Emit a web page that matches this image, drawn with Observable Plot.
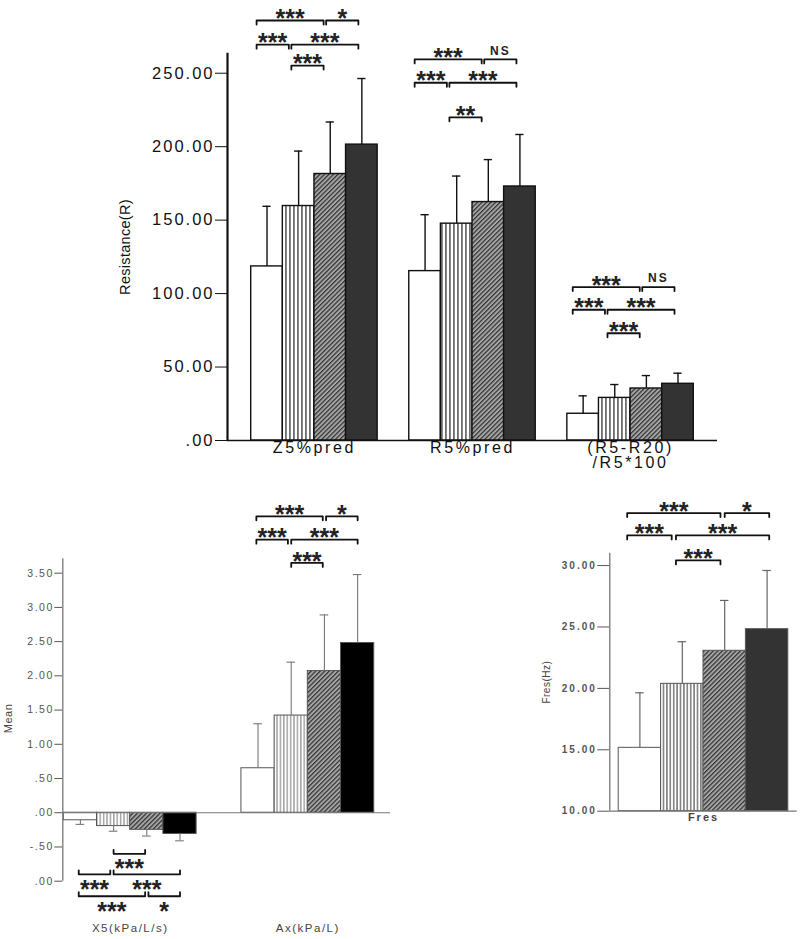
<!DOCTYPE html>
<html><head><meta charset="utf-8">
<script src="https://cdn.jsdelivr.net/npm/d3@7"></script>
<script src="https://cdn.jsdelivr.net/npm/@observablehq/plot@0.6"></script>
<style>
body{margin:0;background:#fff;}
#wrap{position:relative;width:800px;height:939px;overflow:hidden;background:#fff;}
</style></head><body>
<svg width="0" height="0" style="position:absolute">
<defs>
<pattern id="vsTop" patternUnits="userSpaceOnUse" width="4" height="4"><rect width="4" height="4" fill="#fff"/><rect x="1.4" width="1.1" height="4" fill="#111"/></pattern>
<pattern id="vsLow" patternUnits="userSpaceOnUse" width="3.4" height="4"><rect width="3.4" height="4" fill="#fff"/><rect x="1.2" width="0.9" height="4" fill="#666"/></pattern>
<pattern id="vsFres" patternUnits="userSpaceOnUse" width="3.4" height="4"><rect width="3.4" height="4" fill="#fff"/><rect x="1.2" width="1" height="4" fill="#333"/></pattern>
<pattern id="hatch" patternUnits="userSpaceOnUse" width="3.2" height="3.2" patternTransform="rotate(45)"><rect width="3.2" height="3.2" fill="#a6a6a6"/><rect width="1.25" height="3.2" fill="#333"/></pattern>
</defs></svg>
<div id="wrap"></div>
<script>
// ---------------- DATA ----------------
// top panel: Resistance(R)
const topGroups = ["Z5%pred", "R5%pred", "(R5-R20)\n/R5*100"];
const z5Mean = [118.5, 159.6, 181.4, 201.4];
const z5Upper = [159.4, 197.0, 216.8, 246.4];
const r5Mean = [115.3, 147.6, 162.3, 172.9];
const r5Upper = [153.7, 180.0, 191.2, 208.3];
const ratioMean = [18.2, 29.0, 35.4, 38.6];
const ratioUpper = [30.4, 38.1, 44.2, 45.8];
const topTicks = [0, 50, 100, 150, 200, 250];
const topTickLabels = [".00", "50.00", "100.00", "150.00", "200.00", "250.00"];
const topAxisTop = 263.6;

// bottom-left panel: Mean
const lowGroups = ["X5(kPa/L/s)", "Ax(kPa/L)"];
const x5Mean = [-0.11, -0.195, -0.25, -0.31];
const x5Lower = [-0.17, -0.27, -0.34, -0.41];
const axMean = [0.65, 1.42, 2.07, 2.48];
const axUpper = [1.30, 2.20, 2.89, 3.48];
const lowTicks = [-1, -0.5, 0, 0.5, 1, 1.5, 2, 2.5, 3, 3.5];
const lowTickLabels = [".00", "-.50", ".00", ".50", "1.00", "1.50", "2.00", "2.50", "3.00", "3.50"];
const lowAxisRange = [-1, 3.71];

// bottom-right panel: Fres(Hz)
const fresGroups = ["Fres"];
const fresMean = [15.16, 20.37, 23.06, 24.82];
const fresUpper = [19.64, 23.80, 27.16, 29.60];
const fresTicks = [10, 15, 20, 25, 30];
const fresTickLabels = ["10.00", "15.00", "20.00", "25.00", "30.00"];
const fresAxisRange = [10, 31.0];

// significance brackets: bars a..b, tier (0 = farthest from bars), label
const sigZ5 = [{a:0,b:2,tier:0,label:"***"},{a:2,b:3,tier:0,label:"*"},{a:0,b:1,tier:1,label:"***"},{a:1,b:3,tier:1,label:"***"},{a:1,b:2,tier:2,label:"***"}];
const sigR5 = [{a:0,b:2,tier:0,label:"***"},{a:2,b:3,tier:0,label:"NS"},{a:0,b:1,tier:1,label:"***"},{a:1,b:3,tier:1,label:"***"},{a:1,b:2,tier:2,label:"**"}];
const sigRatio = [{a:0,b:2,tier:0,label:"***"},{a:2,b:3,tier:0,label:"NS"},{a:0,b:1,tier:1,label:"***"},{a:1,b:3,tier:1,label:"***"},{a:1,b:2,tier:2,label:"***"}];
const sigAx = [{a:0,b:2,tier:0,label:"***"},{a:2,b:3,tier:0,label:"*"},{a:0,b:1,tier:1,label:"***"},{a:1,b:3,tier:1,label:"***"},{a:1,b:2,tier:2,label:"***"}];
const sigX5 = [{a:1,b:2,tier:0,label:"***"},{a:0,b:1,tier:1,label:"***"},{a:1,b:3,tier:1,label:"***"},{a:0,b:2,tier:2,label:"***"},{a:2,b:3,tier:2,label:"*"}];
const sigFres = [{a:0,b:2,tier:0,label:"***"},{a:2,b:3,tier:0,label:"*"},{a:0,b:1,tier:1,label:"***"},{a:1,b:3,tier:1,label:"***"},{a:1,b:2,tier:2,label:"***"}];
// bracket tier heights (data units)
const tiersZ5 = [285.9, 269.4, 255.2];
const tiersR5 = [259.4, 243.5, 220.0];
const tiersRatio = [104.4, 89.0, 73.0];
const tiersAx = [4.33, 3.99, 3.65];
const tiersX5 = [-0.60, -0.90, -1.22];
const tiersFres = [34.27, 32.45, 30.42];

// ---------------- HELPERS ----------------
function buildRows(groups, means, ends, groupStep) {
  const out = [];
  groups.forEach((name, g) => means[g].forEach((m, i) => {
    const x1 = g * groupStep + i;
    out.push({g, i, name, mean: m, end: ends[g][i], x1, x2: x1 + 1, xc: x1 + 0.5});
  }));
  return out;
}
function buildBrackets(sig, start, tiers, geom, tickLen, dir) {
  const lines = [], labels = [];
  sig.forEach((s, k) => {
    const x1 = start + geom.base + geom.step * s.a;
    const x2 = start + geom.base + geom.step * s.b - geom.gap;
    const y = tiers[s.tier];
    const ye = y - dir * tickLen;
    const id = start + "-" + k;
    lines.push({id, x: x1, y: ye}, {id, x: x1, y}, {id, x: x2, y}, {id, x: x2, y: ye});
    labels.push({x: (x1 + x2) / 2, y, label: s.label});
  });
  return {lines, labels};
}
function bracketMarks(br, starDy, nsDy) {
  return [
    Plot.line(br.lines, {x: "x", y: "y", z: "id", stroke: "#111", strokeWidth: 1.8, curve: "linear"}),
    Plot.text(br.labels.filter(d => d.label !== "NS"), {x: "x", y: "y", text: "label", dy: starDy, fontSize: 25, fontWeight: "bold", fill: "#222"}),
    Plot.text(br.labels.filter(d => d.label === "NS"), {x: "x", y: "y", text: "label", dy: nsDy, fontSize: 12, fontWeight: "bold", fill: "#222"})
  ];
}
function styleText(svg, test, styles) {
  const sel = d3.select(svg).selectAll("text").filter(function() { return test(this.textContent); });
  for (const k in styles) sel.style(k, styles[k]);
}
function place(svg, left, top) {
  svg.style.position = "absolute";
  svg.style.left = left + "px";
  svg.style.top = top + "px";
  svg.style.background = "transparent";
  svg.style.maxWidth = "none";
  document.getElementById("wrap").appendChild(svg);
  styleText(svg, t => /^\*+$/.test(t), {"letter-spacing": "0px"});
}
const FONT = "'Liberation Sans', Arial, sans-serif";

// ---------------- TOP PANEL ----------------
{
  const H = 470, MB = 30, yDom = [0, 299.5];
  const pxPerUnit = (H - MB) / (yDom[1] - yDom[0]);
  const rows = buildRows(topGroups, [z5Mean, r5Mean, ratioMean], [z5Upper, r5Upper, ratioUpper], 5);
  const fills = ["#fff", "url(#vsTop)", "url(#hatch)", "#333"];
  const geom = {base: 0.17, step: 1.1, gap: 0.08};
  const tl = 4 / pxPerUnit;
  const brs = [
    buildBrackets(sigZ5, 0, tiersZ5, geom, tl, 1),
    buildBrackets(sigR5, 5, tiersR5, geom, tl, 1),
    buildBrackets(sigRatio, 10, tiersRatio, geom, tl, 1)
  ];
  const tickMap = new Map(topTicks.map((t, i) => [t, topTickLabels[i]]));
  const xDom = [-0.75, 14.75];
  const svg = Plot.plot({
    width: 800, height: H, marginTop: 0, marginBottom: MB, marginLeft: 227, marginRight: 83,
    style: {fontFamily: FONT, fontSize: "16.5px", letterSpacing: "2px", color: "#111", background: "transparent"},
    x: {domain: xDom, axis: null},
    y: {domain: yDom, ticks: topTicks, tickFormat: d => tickMap.get(d), tickSize: 12, tickPadding: 1, label: null},
    marks: [
      ...fills.map((f, i) => Plot.rect(rows.filter(d => d.i === i), {x1: "x1", x2: "x2", y1: 0, y2: "mean", fill: f, stroke: "#111", strokeWidth: 1.4})),
      Plot.ruleX(rows, {x: "xc", y1: "mean", y2: "end", stroke: "#111", strokeWidth: 1.4}),
      Plot.ruleY(rows, {y: "end", x1: d => d.xc - 0.13, x2: d => d.xc + 0.13, stroke: "#111", strokeWidth: 1.4}),
      Plot.ruleY([0], {stroke: "#111", strokeWidth: 1.6}),
      Plot.ruleX([xDom[0]], {y1: 0, y2: topAxisTop, stroke: "#111", strokeWidth: 2.2}),
      ...brs.flatMap(b => bracketMarks(b, -1.3, -8.5)),
      Plot.text(topGroups.map((name, g) => ({name, x: g * 5 + 2})), {x: "x", y: 0, text: "name", lineAnchor: "top", dy: 1, fontSize: 16, lineHeight: 0.98}),
      Plot.text(["Resistance(R)"], {text: d => d, frameAnchor: "left", textAnchor: "middle", rotate: -90, dx: -102, dy: 26.5, fontSize: 14.5})
    ]
  });
  place(svg, 0, 0);
  styleText(svg, t => t === "Resistance(R)", {"letter-spacing": "0.3px"});
  styleText(svg, t => topGroups.some(g => g.replace("\n", "") === t), {"letter-spacing": "2.6px"});
}

// ---------------- BOTTOM-LEFT PANEL ----------------
{
  const H = 469, MB = 21, yDom = [-1.545, 5.0];
  const pxPerUnit = (H - MB) / (yDom[1] - yDom[0]);
  const step = 5.35;
  const rows = buildRows(lowGroups, [x5Mean, axMean], [x5Lower, axUpper], step);
  const fills = ["#fff", "url(#vsLow)", "url(#hatch)", "#000"];
  const geom = {base: 0.45, step: 1.05, gap: 0.1};
  const tl = 4 / pxPerUnit;
  const brX5 = buildBrackets(sigX5, 0, tiersX5, geom, tl, -1);
  const brAx = buildBrackets(sigAx, step, tiersAx, geom, tl, 1);
  const tickMap = new Map(lowTicks.map((t, i) => [t, lowTickLabels[i]]));
  const xDom = [-0.03, 9.84];
  const svg = Plot.plot({
    width: 420, height: H, marginTop: 0, marginBottom: MB, marginLeft: 62.3, marginRight: 30,
    style: {fontFamily: FONT, fontSize: "10.5px", letterSpacing: "1.5px", color: "#555", background: "transparent"},
    x: {domain: xDom, axis: null},
    y: {domain: yDom, ticks: lowTicks, tickFormat: d => tickMap.get(d), tickSize: 8, tickPadding: 1, label: null},
    marks: [
      ...fills.map((f, i) => Plot.rect(rows.filter(d => d.i === i), {x1: "x1", x2: "x2", y1: 0, y2: "mean", fill: f, stroke: "#555", strokeWidth: 1})),
      Plot.ruleX(rows, {x: "xc", y1: "mean", y2: "end", stroke: "#777", strokeWidth: 1.1}),
      Plot.ruleY(rows, {y: "end", x1: d => d.xc - 0.13, x2: d => d.xc + 0.13, stroke: "#777", strokeWidth: 1.1}),
      Plot.ruleY([0], {stroke: "#777", strokeWidth: 1.2}),
      Plot.ruleX([xDom[0]], {y1: lowAxisRange[0], y2: lowAxisRange[1], stroke: "#777", strokeWidth: 1.3}),
      ...bracketMarks(brX5, 15.3, 8),
      ...bracketMarks(brAx, -1.3, -8.5),
      Plot.text(lowGroups.map((name, g) => ({name, x: g * step + 2})), {x: "x", frameAnchor: "bottom", text: "name", dy: 13.7, fontSize: 11.5, fill: "#444"}),
      Plot.text(["Mean"], {text: d => d, frameAnchor: "left", textAnchor: "middle", rotate: -90, dx: -54, dy: 24, fontSize: 11, fill: "#444"})
    ]
  });
  place(svg, 0, 470);
  styleText(svg, t => t === "Mean", {"letter-spacing": "0.5px"});
}

// ---------------- BOTTOM-RIGHT PANEL ----------------
{
  const H = 469, MB = 128.3, yDom = [10, 37.74];
  const pxPerUnit = (H - MB) / (yDom[1] - yDom[0]);
  const rows = buildRows(fresGroups, [fresMean], [fresUpper], 5);
  const fills = ["#fff", "url(#vsFres)", "url(#hatch)", "#333"];
  const geom = {base: 0.2, step: 1.15, gap: 0.1};
  const tl = 4 / pxPerUnit;
  const br = buildBrackets(sigFres, 0, tiersFres, geom, tl, 1);
  const tickMap = new Map(fresTicks.map((t, i) => [t, fresTickLabels[i]]));
  const xDom = [-0.21, 4.21];
  const svg = Plot.plot({
    width: 400, height: H, marginTop: 0, marginBottom: MB, marginLeft: 209.3, marginRight: 3.3,
    style: {fontFamily: FONT, fontSize: "10px", fontWeight: "bold", letterSpacing: "2px", color: "#555", background: "transparent"},
    x: {domain: xDom, axis: null},
    y: {domain: yDom, ticks: fresTicks, tickFormat: d => tickMap.get(d), tickSize: 12, tickPadding: 1, label: null},
    marks: [
      ...fills.map((f, i) => Plot.rect(rows.filter(d => d.i === i), {x1: "x1", x2: "x2", y1: yDom[0], y2: "mean", fill: f, stroke: "#555", strokeWidth: 1})),
      Plot.ruleX(rows, {x: "xc", y1: "mean", y2: "end", stroke: "#666", strokeWidth: 1.2}),
      Plot.ruleY(rows, {y: "end", x1: d => d.xc - 0.1, x2: d => d.xc + 0.1, stroke: "#666", strokeWidth: 1.2}),
      Plot.ruleY([yDom[0]], {stroke: "#777", strokeWidth: 1.2}),
      Plot.ruleX([xDom[0]], {y1: fresAxisRange[0], y2: fresAxisRange[1], stroke: "#777", strokeWidth: 1.3}),
      ...bracketMarks(br, -1.3, -8.5),
      Plot.text(fresGroups.map((name, g) => ({name, x: g * 5 + 2})), {x: "x", y: yDom[0], text: "name", dy: 6, fontSize: 11, fontWeight: "bold", fill: "#444"}),
      Plot.text(["Fres(Hz)"], {text: d => d, frameAnchor: "left", textAnchor: "middle", rotate: -90, dx: -62.6, dy: 41.3, fontSize: 10, fontWeight: "normal", fill: "#444"})
    ]
  });
  place(svg, 400, 470);
  styleText(svg, t => t === "Fres(Hz)", {"letter-spacing": "0.5px"});
}
</script>
</body></html>
